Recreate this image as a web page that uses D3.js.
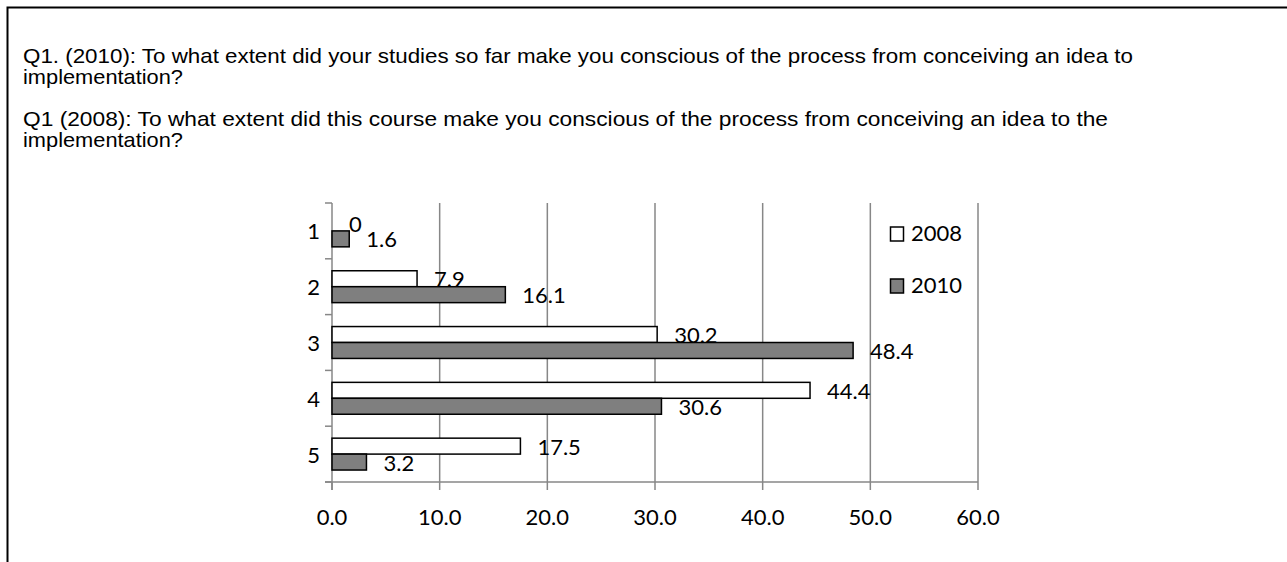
<!DOCTYPE html>
<html lang="en">
<head>
    <meta charset="UTF-8">
    <title>Q1 conscious of process</title>
    <script src="https://d3js.org/d3.v7.min.js"></script>
    <style>
        body { margin: 0; background: #fff; }
    </style>
</head>
<body>
<div style="width: 1287px;height: 562px" id="figure"></div>
<script>
    // data
    const categories = ["1", "2", "3", "4", "5"];
    const seriesNames = ["2008", "2010"];
    const values2008 = [0, 7.9, 30.2, 44.4, 17.5];
    const values2010 = [1.6, 16.1, 48.4, 30.6, 3.2];
    const xTicks = [0, 10, 20, 30, 40, 50, 60];
    const titleLines = [
        "Q1. (2010):  To what extent did your studies so far make you conscious of the process from conceiving an idea to",
        "implementation?",
        "Q1 (2008): To what extent did this course make you conscious of the process from conceiving an idea to the",
        "implementation?"
    ];

    let figure = document.getElementById("figure");
    let w = figure.clientWidth;
    let h = figure.clientHeight;
    let gridColor = "#878787";
    let fills = {"2008": "#ffffff", "2010": "#7f7f7f"};
    let chartFont = "Lato, 'Open Sans', sans-serif";

    let svg = d3.select(figure).append("svg")
        .attr("width", w)
        .attr("height", h);

    // frame: left and top edges only
    svg.append("path")
        .attr("d", "M7.5," + h + "V7.5H" + w)
        .style("fill", "none")
        .style("stroke", "black")
        .style("stroke-width", 2);

    // question text
    let titleY = [63, 84, 126, 147];
    let titleLen = [1110, 160, 1085, 160];
    svg.selectAll("text.title")
        .data(titleLines)
        .enter().append("text")
        .attr("class", "title")
        .attr("x", 23)
        .attr("y", (d, i) => titleY[i])
        .attr("textLength", (d, i) => titleLen[i])
        .attr("lengthAdjust", "spacingAndGlyphs")
        .style("font-family", "'Liberation Sans', Arial, sans-serif")
        .style("font-size", "21px")
        .style("fill", "black")
        .text(d => d);

    let x = d3.scaleLinear()
        .domain([0, 60])
        .range([332, 978]);
    let y = d3.scaleBand()
        .domain(categories)
        .range([203, 482]);
    let yInner = d3.scaleBand()
        .domain(seriesNames)
        .range([0, y.bandwidth()])
        .paddingOuter(0.75);

    let plot = svg.append("g").attr("id", "plot");

    // vertical gridlines
    plot.selectAll("line.grid")
        .data(xTicks.slice(1))
        .enter().append("line")
        .attr("class", "grid")
        .attr("x1", d => x(d)).attr("x2", d => x(d))
        .attr("y1", 203).attr("y2", 482)
        .style("stroke", gridColor)
        .style("stroke-width", 1.5);

    // x axis line + ticks
    plot.append("line")
        .attr("x1", 325).attr("x2", x(60))
        .attr("y1", 482).attr("y2", 482)
        .style("stroke", gridColor).style("stroke-width", 1.5);
    plot.selectAll("line.xtick")
        .data(xTicks)
        .enter().append("line")
        .attr("class", "xtick")
        .attr("x1", d => x(d)).attr("x2", d => x(d))
        .attr("y1", 482).attr("y2", 490)
        .style("stroke", gridColor).style("stroke-width", 1.5);
    plot.selectAll("text.xlabel")
        .data(xTicks)
        .enter().append("text")
        .attr("class", "xlabel")
        .attr("x", d => x(d))
        .attr("y", 525)
        .attr("text-anchor", "middle")
        .style("font-family", chartFont)
        .style("font-size", "22px")
        .text(d => d3.format(".1f")(d));

    // y axis line + ticks between categories
    plot.append("line")
        .attr("x1", x(0)).attr("x2", x(0))
        .attr("y1", 203).attr("y2", 490)
        .style("stroke", gridColor).style("stroke-width", 1.5);
    let bounds = categories.map(c => y(c)).concat([y.range()[1]]);
    plot.selectAll("line.ytick")
        .data(bounds)
        .enter().append("line")
        .attr("class", "ytick")
        .attr("x1", 325).attr("x2", x(0))
        .attr("y1", d => d).attr("y2", d => d)
        .style("stroke", gridColor).style("stroke-width", 1.5);
    plot.selectAll("text.ylabel")
        .data(categories)
        .enter().append("text")
        .attr("class", "ylabel")
        .attr("x", 320)
        .attr("y", d => y(d) + y.bandwidth() / 2 + 3)
        .attr("text-anchor", "end")
        .attr("dominant-baseline", "middle")
        .style("font-family", chartFont)
        .style("font-size", "22px")
        .text(d => d);

    // bars and labels, layered so the 2010 bar sits over the 2008 label
    let rows = [];
    categories.forEach((c, i) => {
        rows.push({cat: c, s: "2008", v: values2008[i]});
        rows.push({cat: c, s: "2010", v: values2010[i]});
    });
    let labelShift = {"2008": 3, "2010": 3};

    function drawBars(data) {
        plot.selectAll(null)
            .data(data)
            .enter().append("rect")
            .attr("x", x(0))
            .attr("y", d => y(d.cat) + yInner(d.s))
            .attr("width", d => x(d.v) - x(0))
            .attr("height", yInner.bandwidth())
            .style("fill", d => fills[d.s])
            .style("stroke", d => d.v > 0 ? "black" : "none")
            .style("stroke-width", 1.5);
    }
    function drawLabels(data) {
        plot.selectAll(null)
            .data(data)
            .enter().append("text")
            .attr("x", d => x(d.v) + 17)
            .attr("y", d => y(d.cat) + yInner(d.s) + yInner.bandwidth() / 2 + labelShift[d.s])
            .attr("dominant-baseline", "middle")
            .style("font-family", chartFont)
            .style("font-size", "22px")
            .text(d => d.v);
    }
    let r08 = rows.filter(d => d.s === "2008");
    let r10 = rows.filter(d => d.s === "2010");
    drawBars(r08);
    drawLabels(r08);
    drawBars(r10);
    drawLabels(r10);

    // legend
    let legend = svg.append("g").attr("transform", "translate(890,0)");
    let legY = [234, 286];
    seriesNames.forEach((s, i) => {
        legend.append("rect")
            .attr("x", 0.5).attr("y", legY[i] - 7)
            .attr("width", 13).attr("height", 14)
            .style("fill", fills[s])
            .style("stroke", "black")
            .style("stroke-width", 1.5);
        legend.append("text")
            .attr("x", 21).attr("y", legY[i] + 1)
            .attr("dominant-baseline", "middle")
            .style("font-family", chartFont)
            .style("font-size", "22px")
            .text(s);
    });
</script>
</body>
</html>
